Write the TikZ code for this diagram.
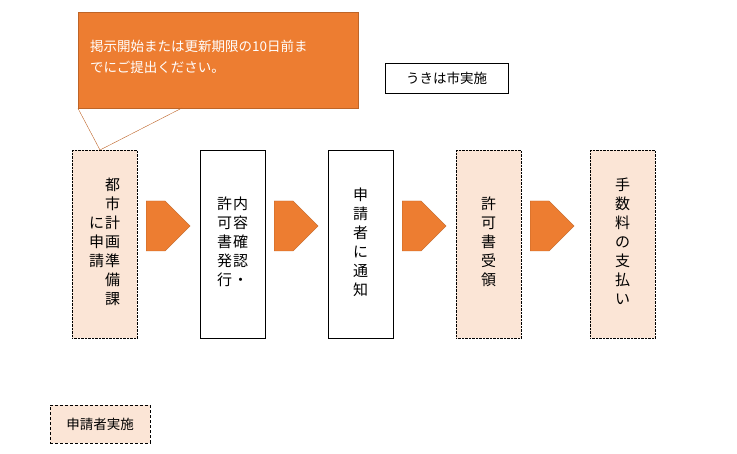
\documentclass[tikz,border=0pt]{standalone}
\usepackage{fontspec}
\setmainfont{Noto Sans CJK JP}
\usetikzlibrary{shapes.arrows}
\definecolor{org}{HTML}{ED7D31}
\definecolor{pk}{HTML}{FBE5D6}
\newcommand\vc[1]{\begin{tabular}[c]{@{}c@{}}#1\end{tabular}}
\begin{document}
\begin{tikzpicture}[x=1pt,y=-1pt,
  box/.style={draw,minimum width=65pt,minimum height=188pt,anchor=north west,inner sep=0pt,font=\fontsize{15}{19}\selectfont},
  pbox/.style={box,fill=pk,densely dotted},
  wbox/.style={box,fill=white},
  arr/.style={single arrow,fill=org,draw=org!80!black,minimum height=44pt,minimum width=50pt,single arrow head extend=0pt,inner sep=8pt,anchor=west}]
\useasboundingbox (0,0) rectangle (737,454);
\node[pbox] (b1) at (72,150) {\vc{に\\申\\請}\hspace{1pt}\vc{都\\市\\計\\画\\準\\備\\課}};
\node[wbox] (b2) at (200,150) {\vc{許\\可\\書\\発\\行}\hspace{1pt}\vc{内\\容\\確\\認\\・}};
\node[wbox] (b3) at (328,150) {\vc{申\\請\\者\\に\\通\\知}};
\node[pbox] (b4) at (456,150) {\vc{許\\可\\書\\受\\領}};
\node[pbox] (b5) at (590,150) {\vc{手\\数\\料\\の\\支\\払\\い}};
\node[arr] (a1) at (146,226) {};
\node[arr] (a2) at (274,226) {};
\node[arr] (a3) at (402,226) {};
\node[arr] (a4) at (530,226) {};
\node[fill=org,draw=org!80!black,minimum width=280pt,minimum height=96pt,anchor=north west,inner sep=0pt] (call) at (78,12) {};
\node[anchor=north west,text=white,font=\fontsize{13.5}{21}\selectfont,align=left,inner sep=0pt] (ct) at (90,40) {掲示開始または更新期限の10日前ま\\でにご提出ください。};
\coordinate (tip) at (100,150);
\draw[org!80!black] (tip) -- (call.south west) ++(104,0) coordinate (cb);
\draw[org!80!black] (tip) -- (182,108);
\node[draw,minimum width=123pt,minimum height=30pt,anchor=north west,font=\fontsize{13.5}{16}\selectfont] (lab) at (385,63) {うきは市実施};
\node[draw,fill=pk,densely dashed,minimum width=100pt,minimum height=38pt,anchor=north west,font=\fontsize{13.5}{16}\selectfont] (leg) at (50,405) {申請者実施};
\end{tikzpicture}
\end{document}
